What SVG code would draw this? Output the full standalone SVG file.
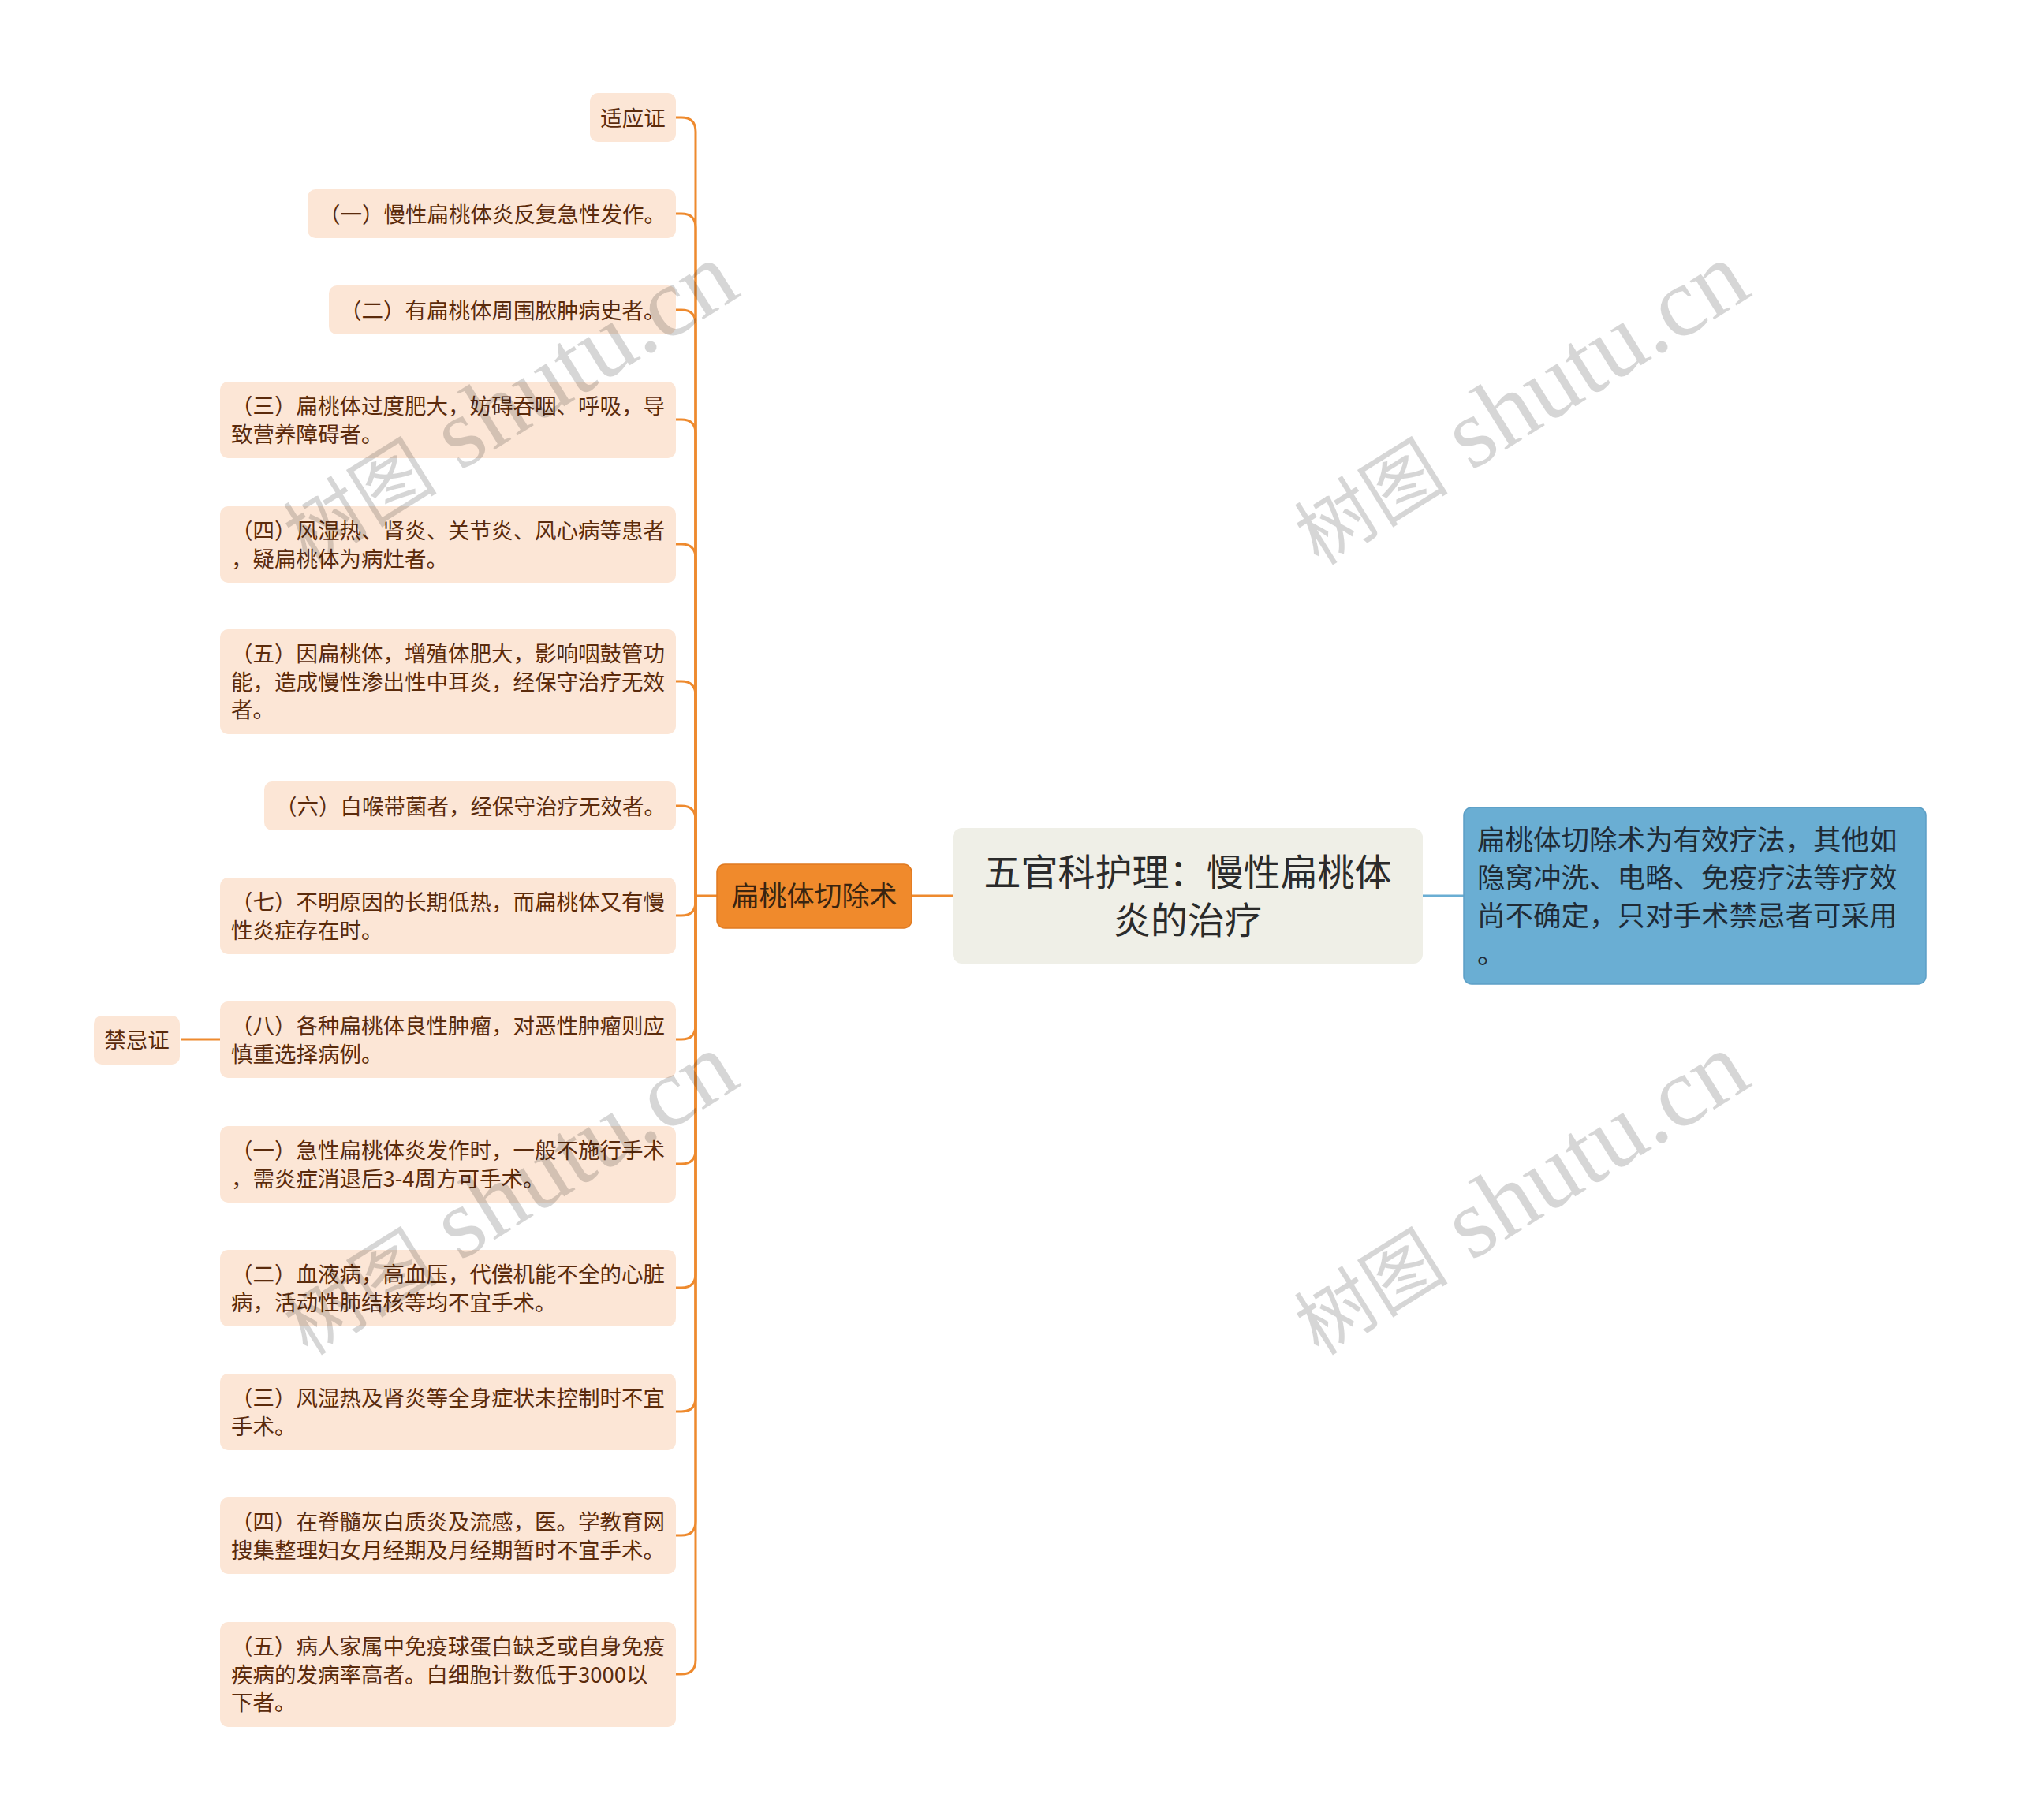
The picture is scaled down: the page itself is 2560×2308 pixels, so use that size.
<svg xmlns="http://www.w3.org/2000/svg" width="2560" height="2308" viewBox="0 0 2560 2308">
<style>
.leaf{fill:#FCE6D6;}
.lt{font-family:"Noto Sans CJK SC","Noto Sans",sans-serif;font-size:27.5px;fill:#5B2B0C;}
.conn{fill:none;stroke:#EE8A2E;stroke-width:3;}
.wm{font-family:"Liberation Serif","Noto Sans CJK SC",serif;font-size:126px;fill:#000;fill-opacity:0.16;}
.wmc{font-family:"Noto Sans CJK SC",serif;font-size:98px;}
</style>
<rect width="2560" height="2308" fill="#FFFFFF"/>
<g id="connectors">
<path class="conn" d="M857,149 H864 Q882,149 882,167 V1136"/>
<path class="conn" d="M857,271 H864 Q882,271 882,289 V1136"/>
<path class="conn" d="M857,393 H864 Q882,393 882,411 V1136"/>
<path class="conn" d="M857,532 H864 Q882,532 882,550 V1136"/>
<path class="conn" d="M857,690 H864 Q882,690 882,708 V1136"/>
<path class="conn" d="M857,864 H864 Q882,864 882,882 V1136"/>
<path class="conn" d="M857,1022 H864 Q882,1022 882,1040 V1136"/>
<path class="conn" d="M857,1161 H864 Q882,1161 882,1143 V1136"/>
<path class="conn" d="M857,1318 H864 Q882,1318 882,1300 V1136"/>
<path class="conn" d="M857,1476 H864 Q882,1476 882,1458 V1136"/>
<path class="conn" d="M857,1633 H864 Q882,1633 882,1615 V1136"/>
<path class="conn" d="M857,1790 H864 Q882,1790 882,1772 V1136"/>
<path class="conn" d="M857,1947 H864 Q882,1947 882,1929 V1136"/>
<path class="conn" d="M857,2123 H864 Q882,2123 882,2105 V1136"/>
<path class="conn" d="M882,1136 H909"/>
<path class="conn" d="M1156,1136 H1209"/>
<path class="conn" d="M229,1318 H279"/>
<path fill="none" stroke="#6AAED3" stroke-width="3" d="M1803,1136 H1856"/>
</g>
<g id="root">
<rect x="1208" y="1050" width="596" height="172" rx="12" fill="#EFEFE7"/>
<text x="1506" y="1123" text-anchor="middle" font-family="'Noto Sans CJK SC',sans-serif" font-size="47px" fill="#2B2B2B">五官科护理：慢性扁桃体</text>
<text x="1506" y="1184" text-anchor="middle" font-family="'Noto Sans CJK SC',sans-serif" font-size="47px" fill="#2B2B2B">炎的治疗</text>
</g>
<g id="note">
<rect x="1856" y="1024" width="586" height="224" rx="10" fill="#6AAED3" stroke="#5C9FC6" stroke-width="1.5"/>
<text font-family="'Noto Sans CJK SC',sans-serif" font-size="35.5px" fill="#1F2B36"><tspan x="1873" y="1078">扁桃体切除术为有效疗法，其他如</tspan><tspan x="1873" y="1126">隐窝冲洗、电略、免疫疗法等疗效</tspan><tspan x="1873" y="1174">尚不确定，只对手术禁忌者可采用</tspan><tspan x="1873" y="1222">。</tspan></text>
</g>
<g id="main">
<rect x="909" y="1096" width="247" height="81" rx="10" fill="#F08A2C" stroke="#E07A20" stroke-width="1.5"/>
<text x="1032.5" y="1149" text-anchor="middle" font-family="'Noto Sans CJK SC',sans-serif" font-size="35px" fill="#3A2410">扁桃体切除术</text>
</g>
<g id="n-syz">
<rect class="leaf" x="748" y="118" width="109" height="62" rx="10"/>
<text class="lt" x="802.5" y="159.5" text-anchor="middle">适应证</text>
</g>
<g id="n-jjz">
<rect class="leaf" x="119" y="1288" width="109" height="62" rx="10"/>
<text class="lt" x="173.5" y="1329" text-anchor="middle">禁忌证</text>
</g>
<g id="n-a1">
<rect class="leaf" x="390" y="240" width="467" height="62" rx="10"/>
<text class="lt" x="404" y="281.5">（一）慢性扁桃体炎反复急性发作。</text>
</g>
<g id="n-a2">
<rect class="leaf" x="417" y="362" width="440" height="62" rx="10"/>
<text class="lt" x="431" y="403.5">（二）有扁桃体周围脓肿病史者。</text>
</g>
<g id="n-a3">
<rect class="leaf" x="279" y="484" width="578" height="97" rx="10"/>
<text class="lt"><tspan x="293" y="525">（三）扁桃体过度肥大，妨碍吞咽、呼吸，导</tspan><tspan x="293" y="560.5">致营养障碍者。</tspan></text>
</g>
<g id="n-a4">
<rect class="leaf" x="279" y="642" width="578" height="97" rx="10"/>
<text class="lt"><tspan x="293" y="683">（四）风湿热、肾炎、关节炎、风心病等患者</tspan><tspan x="293" y="718.5">，疑扁桃体为病灶者。</tspan></text>
</g>
<g id="n-a5">
<rect class="leaf" x="279" y="798" width="578" height="133" rx="10"/>
<text class="lt"><tspan x="293" y="839">（五）因扁桃体，增殖体肥大，影响咽鼓管功</tspan><tspan x="293" y="874.5">能，造成慢性渗出性中耳炎，经保守治疗无效</tspan><tspan x="293" y="910">者。</tspan></text>
</g>
<g id="n-a6">
<rect class="leaf" x="335" y="991" width="522" height="62" rx="10"/>
<text class="lt" x="349" y="1032.5">（六）白喉带菌者，经保守治疗无效者。</text>
</g>
<g id="n-a7">
<rect class="leaf" x="279" y="1113" width="578" height="97" rx="10"/>
<text class="lt"><tspan x="293" y="1154">（七）不明原因的长期低热，而扁桃体又有慢</tspan><tspan x="293" y="1189.5">性炎症存在时。</tspan></text>
</g>
<g id="n-a8">
<rect class="leaf" x="279" y="1270" width="578" height="97" rx="10"/>
<text class="lt"><tspan x="293" y="1311">（八）各种扁桃体良性肿瘤，对恶性肿瘤则应</tspan><tspan x="293" y="1346.5">慎重选择病例。</tspan></text>
</g>
<g id="n-b1">
<rect class="leaf" x="279" y="1428" width="578" height="97" rx="10"/>
<text class="lt"><tspan x="293" y="1469">（一）急性扁桃体炎发作时，一般不施行手术</tspan><tspan x="293" y="1504.5">，需炎症消退后3-4周方可手术。</tspan></text>
</g>
<g id="n-b2">
<rect class="leaf" x="279" y="1585" width="578" height="97" rx="10"/>
<text class="lt"><tspan x="293" y="1626">（二）血液病，高血压，代偿机能不全的心脏</tspan><tspan x="293" y="1661.5">病，活动性肺结核等均不宜手术。</tspan></text>
</g>
<g id="n-b3">
<rect class="leaf" x="279" y="1742" width="578" height="97" rx="10"/>
<text class="lt"><tspan x="293" y="1783">（三）风湿热及肾炎等全身症状未控制时不宜</tspan><tspan x="293" y="1818.5">手术。</tspan></text>
</g>
<g id="n-b4">
<rect class="leaf" x="279" y="1899" width="578" height="97" rx="10"/>
<text class="lt"><tspan x="293" y="1940">（四）在脊髓灰白质炎及流感，医。学教育网</tspan><tspan x="293" y="1975.5">搜集整理妇女月经期及月经期暂时不宜手术。</tspan></text>
</g>
<g id="n-b5">
<rect class="leaf" x="279" y="2057" width="578" height="133" rx="10"/>
<text class="lt"><tspan x="293" y="2098">（五）病人家属中免疫球蛋白缺乏或自身免疫</tspan><tspan x="293" y="2133.5">疾病的发病率高者。白细胞计数低于3000以</tspan><tspan x="293" y="2169">下者。</tspan></text>
</g>
<g id="watermarks">
<text class="wm" x="645" y="552" text-anchor="middle" transform="rotate(-32 645 512)"><tspan class="wmc">树图</tspan> shutu.cn</text>
<text class="wm" x="1927" y="552" text-anchor="middle" transform="rotate(-32 1927 512)"><tspan class="wmc">树图</tspan> shutu.cn</text>
<text class="wm" x="645" y="1554" text-anchor="middle" transform="rotate(-32 645 1514)"><tspan class="wmc">树图</tspan> shutu.cn</text>
<text class="wm" x="1927" y="1554" text-anchor="middle" transform="rotate(-32 1927 1514)"><tspan class="wmc">树图</tspan> shutu.cn</text>
</g>
</svg>
